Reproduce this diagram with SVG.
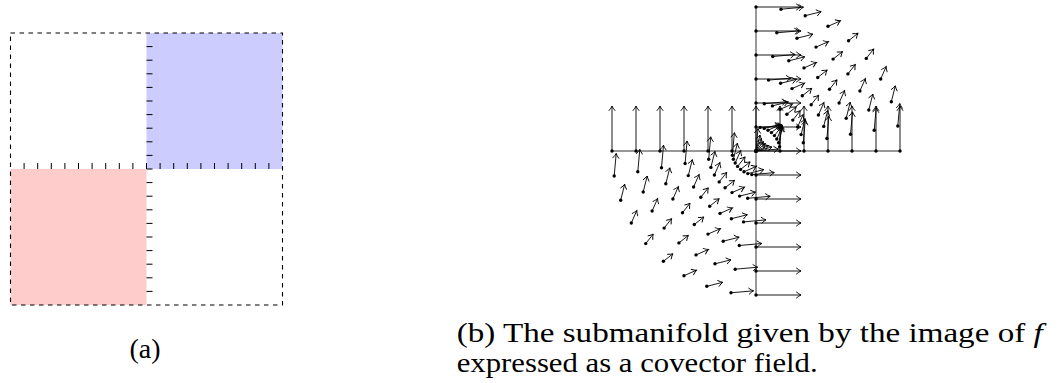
<svg xmlns="http://www.w3.org/2000/svg" width="1058" height="383" viewBox="0 0 1058 383">
<style>
.frame{fill:none;stroke:#000;stroke-width:1.1;stroke-dasharray:4.5 4.5}
.tick{fill:none;stroke:#000;stroke-width:1}
.ax{fill:none;stroke:#333;stroke-width:1}
.v path{fill:none;stroke:#000;stroke-width:0.9;marker-start:url(#dot);marker-end:url(#arr)}
.cap{font-family:"Liberation Serif","Times New Roman",serif;font-size:28px;fill:#000}
</style>
<defs>
<marker id="arr" markerUnits="userSpaceOnUse" viewBox="-6 -5 8 10" markerWidth="8" markerHeight="10" refX="0" refY="0" orient="auto" overflow="visible"><path d="M-4.8,-3.2 Q-2,-0.8 0,0 Q-2,0.8 -4.8,3.2" fill="none" stroke="#000" stroke-width="0.9"/></marker>
<marker id="dot" markerUnits="userSpaceOnUse" viewBox="-3 -3 6 6" markerWidth="6" markerHeight="6" refX="0" refY="0" overflow="visible"><circle r="1.7" fill="#000"/></marker>
</defs>
<g id="panel-a">
<rect x="146.5" y="33" width="136" height="136" fill="#ccccff"/>
<rect x="10.5" y="169" width="136" height="136" fill="#ffcccc"/>
<rect class="frame" x="10.5" y="33" width="272" height="272"/>
<path class="tick" d="M146.5,46.6h6M146.5,60.2h6M146.5,73.8h6M146.5,87.4h6M146.5,101h6M146.5,114.6h6M146.5,128.2h6M146.5,141.8h6M146.5,155.4h6M146.5,169h6M146.5,182.6h6M146.5,196.2h6M146.5,209.8h6M146.5,223.4h6M146.5,237h6M146.5,250.6h6M146.5,264.2h6M146.5,277.8h6M146.5,291.4h6
M24.1,163v6M37.7,163v6M51.3,163v6M64.9,163v6M78.5,163v6M92.1,163v6M105.7,163v6M119.3,163v6M132.9,163v6M146.5,163v6M160.1,163v6M173.7,163v6M187.3,163v6M200.9,163v6M214.5,163v6M228.1,163v6M241.7,163v6M255.3,163v6M268.9,163v6"/>
<text class="cap" x="145" y="358" text-anchor="middle">(a)</text>
</g>
<g id="panel-b">
<g id="axes">
<path class="ax" d="M756,7V295M612,151H900"/>
</g>
<g id="field" class="v">
<g id="center">
<path d="M756,151l45,0"/><path d="M756,151l22.5,-2"/><path d="M756,151l16,-4"/><path d="M756,151l12.5,-5.5"/><path d="M756,151l9.5,-7.5"/><path d="M756,151l7.5,-9.5"/><path d="M756,151l5.5,-12.5"/><path d="M756,151l4,-16"/><path d="M756,151l2,-22.5"/><path d="M756,151l0,-45"/>
</g>
<g id="upper-right">
<path d="M756,127l45,0"/><path d="M760.2,127.4l22.5,-2"/><path d="M764.2,128.4l16,-4"/><path d="M768,130.2l12.5,-5.5"/><path d="M771.4,132.6l9.5,-7.5"/><path d="M774.4,135.6l7.5,-9.5"/><path d="M776.8,139l5.5,-12.5"/><path d="M778.6,142.8l4,-16"/><path d="M779.6,146.8l2,-22.5"/><path d="M780,151l0,-45"/>
<path d="M756,103l45,0"/><path d="M764.3,103.7l22.5,-2"/><path d="M772.4,105.9l16,-4"/><path d="M780,109.4l12.5,-5.5"/><path d="M786.9,114.2l9.5,-7.5"/><path d="M792.8,120.1l7.5,-9.5"/><path d="M797.6,127l5.5,-12.5"/><path d="M801.1,134.6l4,-16"/><path d="M803.3,142.7l2,-22.5"/><path d="M804,151l0,-45"/>
<path d="M756,79l45,0"/><path d="M768.5,80.1l22.5,-2"/><path d="M780.6,83.3l16,-4"/><path d="M792,88.6l12.5,-5.5"/><path d="M802.3,95.8l9.5,-7.5"/><path d="M811.2,104.7l7.5,-9.5"/><path d="M818.4,115l5.5,-12.5"/><path d="M823.7,126.4l4,-16"/><path d="M826.9,138.5l2,-22.5"/><path d="M828,151l0,-45"/>
<path d="M756,55l45,0"/><path d="M772.7,56.5l22.5,-2"/><path d="M788.8,60.8l16,-4"/><path d="M804,67.9l12.5,-5.5"/><path d="M817.7,77.5l9.5,-7.5"/><path d="M829.5,89.3l7.5,-9.5"/><path d="M839.1,103l5.5,-12.5"/><path d="M846.2,118.2l4,-16"/><path d="M850.5,134.3l2,-22.5"/><path d="M852,151l0,-45"/>
<path d="M756,31l45,0"/><path d="M776.8,32.8l22.5,-2"/><path d="M797,38.2l16,-4"/><path d="M816,47.1l12.5,-5.5"/><path d="M833.1,59.1l9.5,-7.5"/><path d="M847.9,73.9l7.5,-9.5"/><path d="M859.9,91l5.5,-12.5"/><path d="M868.8,110l4,-16"/><path d="M874.2,130.2l2,-22.5"/><path d="M876,151l0,-45"/>
<path d="M756,7l45,0"/><path d="M781,9.2l22.5,-2"/><path d="M805.2,15.7l16,-4"/><path d="M828,26.3l12.5,-5.5"/><path d="M848.6,40.7l9.5,-7.5"/><path d="M866.3,58.4l7.5,-9.5"/><path d="M880.7,79l5.5,-12.5"/><path d="M891.3,101.8l4,-16"/><path d="M897.8,126l2,-22.5"/><path d="M900,151l0,-45"/>
</g>
<g id="lower-left">
<path d="M756,175l45,0"/><path d="M751.8,174.6l22.5,-2"/><path d="M747.8,173.6l16,-4"/><path d="M744,171.8l12.5,-5.5"/><path d="M740.6,169.4l9.5,-7.5"/><path d="M737.6,166.4l7.5,-9.5"/><path d="M735.2,163l5.5,-12.5"/><path d="M733.4,159.2l4,-16"/><path d="M732.4,155.2l2,-22.5"/><path d="M732,151l0,-45"/>
<path d="M756,199l45,0"/><path d="M747.7,198.3l22.5,-2"/><path d="M739.6,196.1l16,-4"/><path d="M732,192.6l12.5,-5.5"/><path d="M725.1,187.8l9.5,-7.5"/><path d="M719.2,181.9l7.5,-9.5"/><path d="M714.4,175l5.5,-12.5"/><path d="M710.9,167.4l4,-16"/><path d="M708.7,159.3l2,-22.5"/><path d="M708,151l0,-45"/>
<path d="M756,223l45,0"/><path d="M743.5,221.9l22.5,-2"/><path d="M731.4,218.7l16,-4"/><path d="M720,213.4l12.5,-5.5"/><path d="M709.7,206.2l9.5,-7.5"/><path d="M700.8,197.3l7.5,-9.5"/><path d="M693.6,187l5.5,-12.5"/><path d="M688.3,175.6l4,-16"/><path d="M685.1,163.5l2,-22.5"/><path d="M684,151l0,-45"/>
<path d="M756,247l45,0"/><path d="M739.3,245.5l22.5,-2"/><path d="M723.2,241.2l16,-4"/><path d="M708,234.1l12.5,-5.5"/><path d="M694.3,224.5l9.5,-7.5"/><path d="M682.5,212.7l7.5,-9.5"/><path d="M672.9,199l5.5,-12.5"/><path d="M665.8,183.8l4,-16"/><path d="M661.5,167.7l2,-22.5"/><path d="M660,151l0,-45"/>
<path d="M756,271l45,0"/><path d="M735.2,269.2l22.5,-2"/><path d="M715,263.8l16,-4"/><path d="M696,254.9l12.5,-5.5"/><path d="M678.9,242.9l9.5,-7.5"/><path d="M664.1,228.1l7.5,-9.5"/><path d="M652.1,211l5.5,-12.5"/><path d="M643.2,192l4,-16"/><path d="M637.8,171.8l2,-22.5"/><path d="M636,151l0,-45"/>
<path d="M756,295l45,0"/><path d="M731,292.8l22.5,-2"/><path d="M706.8,286.3l16,-4"/><path d="M684,275.7l12.5,-5.5"/><path d="M663.4,261.3l9.5,-7.5"/><path d="M645.7,243.6l7.5,-9.5"/><path d="M631.3,223l5.5,-12.5"/><path d="M620.7,200.2l4,-16"/><path d="M614.2,176l2,-22.5"/><path d="M612,151l0,-45"/>
</g>
</g>
<text class="cap" x="456.7" y="342" textLength="586" lengthAdjust="spacingAndGlyphs">(b) The submanifold given by the image of <tspan font-style="italic">f</tspan></text>
<text class="cap" x="456.7" y="372" textLength="361" lengthAdjust="spacingAndGlyphs">expressed as a covector field.</text>
</g>
</svg>
